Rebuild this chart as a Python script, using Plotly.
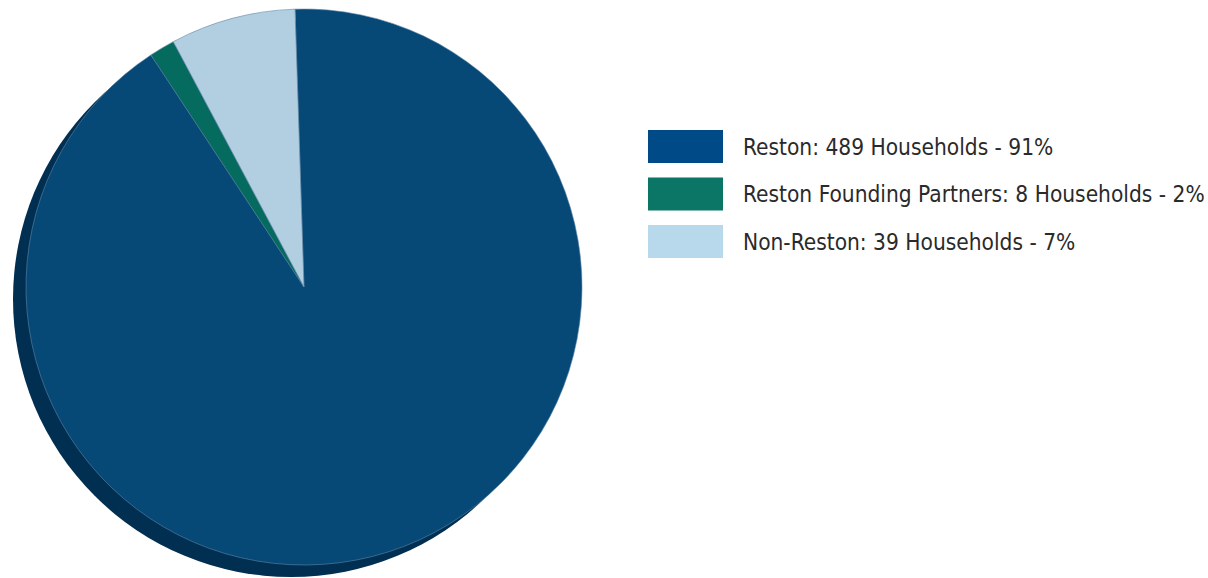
import plotly.graph_objects as go

W, H = 1208, 578

labels = ["Reston", "Reston Founding Partners", "Non-Reston"]
households = [489, 8, 39]
percents = [91, 2, 7]
slice_colors = ["#064876", "#046b5e", "#b1cfe1"]
legend_colors = ["#004a87", "#0b7566", "#b8d8ec"]
shadow_color = "#002f52"

FONT = "DejaVu Sans Condensed, Liberation Sans Narrow, sans-serif"

def px_dom_x(a, b):
    return [a / W, b / W]

def px_dom_y(top, bottom):
    return [(H - bottom) / H, (H - top) / H]

fig = go.Figure()

# shadow
fig.add_trace(go.Pie(
    values=[1], labels=["shadow"], marker=dict(colors=[shadow_color], line=dict(width=0)),
    textinfo="none", hoverinfo="skip", showlegend=False, sort=False,
    domain=dict(x=px_dom_x(13, 569), y=px_dom_y(21, 577)),
))

# main pie
fig.add_trace(go.Pie(
    values=households, labels=labels,
    marker=dict(colors=slice_colors, line=dict(width=0.6, color="#5f86a8")),
    textinfo="none", sort=False, direction="clockwise", rotation=-1.85,
    showlegend=False,
    domain=dict(x=px_dom_x(26, 582), y=px_dom_y(9, 565)),
))

shapes = []
annotations = []
row_tops = [130, 177.5, 225]
for i, (lab, hh, pc) in enumerate(zip(labels, households, percents)):
    top = row_tops[i]
    shapes.append(dict(
        type="rect", xref="paper", yref="paper",
        x0=648 / W, x1=723 / W, y0=(H - top - 33) / H, y1=(H - top) / H,
        fillcolor=legend_colors[i], line=dict(width=0), layer="above",
    ))
    annotations.append(dict(
        xref="paper", yref="paper", x=741 / W, y=(H - top - 16.5) / H,
        xanchor="left", yanchor="middle", showarrow=False,
        text=f"{lab}: {hh} Households - {pc}%",
        font=dict(family=FONT, size=22.5, color="#2a2a2a"),
    ))

fig.update_layout(
    width=W, height=H,
    margin=dict(l=0, r=0, t=0, b=0),
    paper_bgcolor="white", plot_bgcolor="white",
    shapes=shapes, annotations=annotations,
    showlegend=False,
)

fig.write_html("out.html")
